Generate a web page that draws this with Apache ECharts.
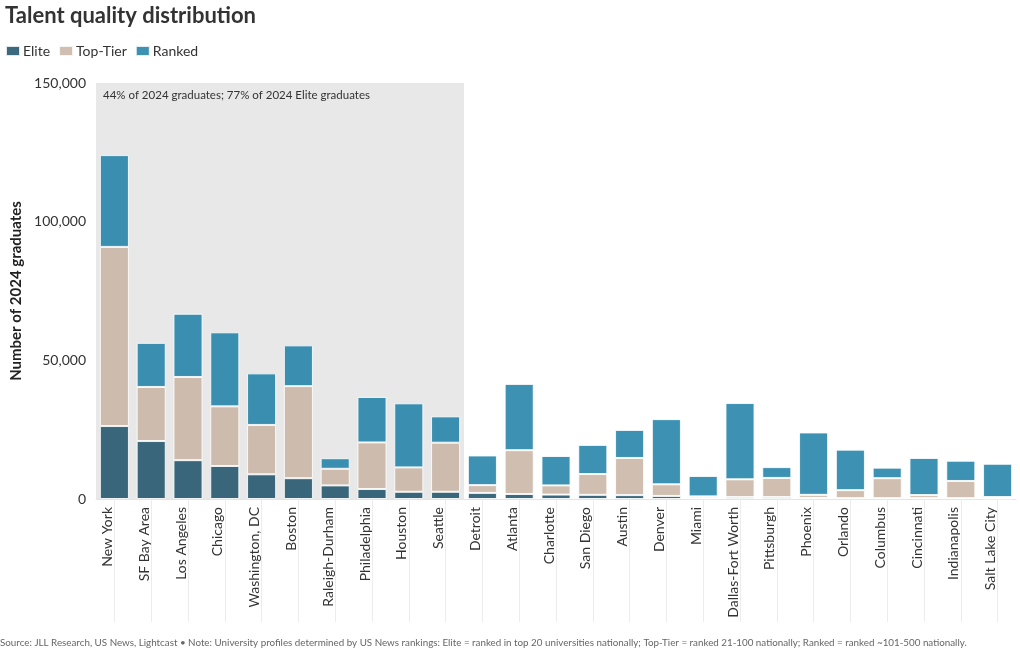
<!DOCTYPE html>
<html>
<head>
<meta charset="utf-8">
<script src="https://cdn.jsdelivr.net/npm/echarts@6/dist/echarts.min.js"></script>
<style>
html,body{margin:0;padding:0;background:#fff;}
#chart{width:1020px;height:650px;}
</style>
</head>
<body>
<div id="chart"></div>
<script>
const categories = ["New York","SF Bay Area","Los Angeles","Chicago","Washington, DC","Boston","Raleigh-Durham","Philadelphia","Houston","Seattle","Detroit","Atlanta","Charlotte","San Diego","Austin","Denver","Miami","Dallas-Fort Worth","Pittsburgh","Phoenix","Orlando","Columbus","Cincinnati","Indianapolis","Salt Lake City"];
const elite = [26300,20900,14000,11900,8900,7500,4900,3600,2600,2600,2200,1800,1600,1500,1400,1100,300,700,700,400,300,300,300,300,200];
const topTier = [64600,19500,30000,21500,17800,33200,6000,16800,8800,17700,2800,15800,3300,7500,13400,4200,650,6400,6900,1100,2900,7200,1100,6200,500];
const ranked = [33100,15900,22800,26700,18600,14700,3800,16400,23100,9500,10700,23900,10600,10500,10100,23500,7350,27500,3900,22500,14600,3800,13400,7300,12000];
const yTicks = [0,50000,100000,150000];
const highlightStart = "New York";
const highlightEnd = "Seattle";
const highlightLabel = "44% of 2024 graduates; 77% of 2024 Elite graduates";

const FONT = "Lato";
const chart = echarts.init(document.getElementById('chart'), null, {renderer:'canvas'});
const barStyle = (c) => ({color:c, opacity:0.85, borderColor:'#fff', borderWidth:1});
const sourceText = {
  type:'text', left:0, top:638, z:10,
  style:{text:"Source: JLL Research, US News, Lightcast \u2022 Note: University profiles determined by US News rankings: Elite = ranked in top 20 universities nationally; Top-Tier = ranked 21-100 nationally; Ranked = ranked ~101-500 nationally.",
    font:'9.8px '+FONT, fill:'#666'}
};
chart.setOption({
  animation:false,
  textStyle:{fontFamily:FONT},
  title:{
    text:"Talent quality distribution", left:0, top:0,
    textStyle:{fontFamily:FONT, fontWeight:'bold', fontSize:22, color:'#333'}
  },
  legend:{
    left:0, top:39, itemWidth:14, itemHeight:10, itemGap:8,
    icon:'rect',
    textStyle:{fontFamily:FONT, fontSize:14, color:'#333', padding:[0,0,0,-2]},
    data:['Elite','Top-Tier','Ranked']
  },
  graphic:[sourceText],
  grid:{left:96, right:4, top:83, bottom:151},
  xAxis:{
    type:'category', data:categories,
    axisLine:{show:true, lineStyle:{color:'#e4e4e4'}},
    axisTick:{show:true, alignWithLabel:true, length:123, lineStyle:{color:'#ececec'}},
    axisLabel:{rotate:90, fontSize:14, color:'#333', margin:8, interval:0, verticalAlign:'bottom', fontFamily:FONT}
  },
  yAxis:{
    type:'value', min:0, max:150000, interval:50000,
    name:'Number of 2024 graduates', nameLocation:'middle', nameGap:72,
    nameTextStyle:{fontFamily:FONT, fontWeight:'bold', fontSize:15, color:'#222'},
    axisLine:{show:false}, axisTick:{show:false}, splitLine:{show:false},
    axisLabel:{fontSize:14, color:'#333', margin:10, fontFamily:FONT,
      formatter:(v)=> yTicks.includes(v) ? v.toLocaleString('en-US') : ''}
  },
  series:[
    {name:'Elite', type:'bar', stack:'t', data:elite, barCategoryGap:'21%', itemStyle:barStyle('#1a4f66')},
    {name:'Top-Tier', type:'bar', stack:'t', data:topTier, itemStyle:barStyle('#c8b3a2')},
    {name:'Ranked', type:'bar', stack:'t', data:ranked, itemStyle:barStyle('#1b7fa6')}
  ]
});

// Highlight band, positioned through the chart's own scales
const i0 = categories.indexOf(highlightStart), i1 = categories.indexOf(highlightEnd);
const c0 = chart.convertToPixel({xAxisIndex:0}, categories[i0]);
const c1 = chart.convertToPixel({xAxisIndex:0}, categories[i1]);
const band = chart.convertToPixel({xAxisIndex:0}, categories[1]) - chart.convertToPixel({xAxisIndex:0}, categories[0]);
const yTop = chart.convertToPixel({yAxisIndex:0}, 150000);
const yBot = chart.convertToPixel({yAxisIndex:0}, 0);
const xL = c0 - band/2, xR = c1 + band/2;
chart.setOption({
  graphic:[
    sourceText,
    {type:'rect', z:-1, silent:true, shape:{x:xL, y:yTop, width:xR-xL, height:yBot-yTop}, style:{fill:'#e8e8e8'}},
    {type:'text', z:1, silent:true, x:xL+7, y:yTop+6, style:{text:highlightLabel, font:'11.5px '+FONT, fill:'#333'}}
  ]
}, {replaceMerge:['graphic']});
</script>
</body>
</html>
